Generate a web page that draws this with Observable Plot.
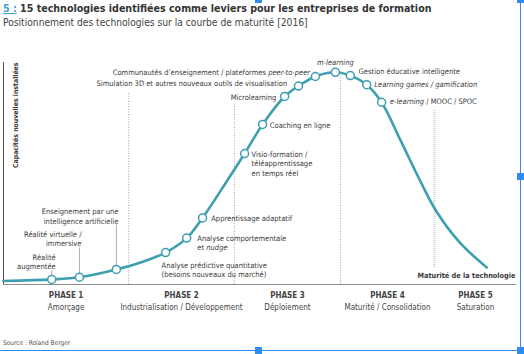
<!DOCTYPE html>
<html><head><meta charset="utf-8">
<script src="https://cdn.jsdelivr.net/npm/d3@7"></script>
<script src="https://cdn.jsdelivr.net/npm/@observablehq/plot@0.6"></script>
<style>
  html,body{margin:0;padding:0;background:#fff;}
  body{position:relative;width:524px;height:354px;overflow:hidden;
       font-family:"Liberation Sans Narrow","Arial Narrow","DejaVu Sans Condensed",sans-serif;color:#333;}
  #title{position:absolute;left:3px;top:2px;font-size:10.6px;line-height:12px;font-weight:bold;color:#333;white-space:nowrap;}
  #title .num{color:#3fa0cc;text-decoration:underline;}
  #subtitle{position:absolute;left:3px;top:17px;font-size:10.2px;line-height:12px;color:#444;white-space:nowrap;}
  #chart{position:absolute;left:0;top:34px;}
  #source{position:absolute;left:3px;top:339px;font-size:6.5px;line-height:9px;color:#555;}
  .sel{position:absolute;background:#2d8ef0;}
</style>
</head><body>
<div id="title"><span class="num">5 :</span> 15 technologies identifiées comme leviers pour les entreprises de formation</div>
<div id="subtitle">Positionnement des technologies sur la courbe de maturité [2016]</div>
<div id="chart"></div>
<div id="source">Source : Roland Berger</div>
<div class="sel" style="left:520px;top:0;width:1px;height:351px"></div>
<div class="sel" style="left:0;top:350px;width:521px;height:1px"></div>
<div class="sel" style="left:255px;top:-4px;width:7px;height:7px"></div>
<div class="sel" style="left:517px;top:-4px;width:7px;height:7px"></div>
<div class="sel" style="left:517px;top:173px;width:7px;height:7px"></div>
<div class="sel" style="left:255px;top:347px;width:7px;height:7px"></div>
<div class="sel" style="left:517px;top:347px;width:7px;height:7px"></div>
<script>
// ---- data ----
const technologies = [
  "Réalité\naugmentée",
  "Réalité virtuelle /\nimmersive",
  "Enseignement par une\nintelligence artificielle",
  "Analyse prédictive quantitative\n(besoins nouveaux du marché)",
  "Analyse comportementale\net nudge",
  "Apprentissage adaptatif",
  "Visio-formation /\ntéléapprentissage\nen temps réel",
  "Coaching en ligne",
  "Microlearning",
  "Simulation 3D et autres nouveaux outils de visualisation",
  "Communautés d’enseignement / plateformes peer-to-peer",
  "m-learning",
  "Gestion éducative intelligente",
  "Learning games / gamification",
  "e-learning / MOOC / SPOC"
];
const maturity = [9.4, 14.8, 22.0, 31.6, 35.7, 38.8, 47.0, 50.5, 54.8, 57.5, 60.8, 64.7, 67.6, 70.8, 73.7];
const capacity = [2.3, 3.3, 6.8, 14.4, 20.9, 30.0, 59.0, 72.1, 84.7, 89.4, 93.7, 95.6, 94.1, 90.0, 82.1];
const curveMaturity = [0, 26.7, 43.5, 77.4, 80.9, 84.4, 89.1, 94.2];
const curveCapacity = [1.6, 9.9, 46.4, 64.9, 48.2, 32.9, 18.5, 7.7];
const phaseBounds = [24.4, 45.0, 65.7, 84.0];
const phaseNames = ["PHASE 1", "PHASE 2", "PHASE 3", "PHASE 4", "PHASE 5"];
const phaseDescs = ["Amorçage", "Industrialisation / Développement", "Déploiement", "Maturité / Consolidation", "Saturation"];
const italicTerms = ["Learning games / gamification", "peer-to-peer", "m-learning", "e-learning", "nudge"];
const yLabel = "Capacités nouvelles installées";
const xLabel = "Maturité de la technologie";

// ---- layout / style ----
const W = 524, H = 304, mTop = 28, mBottom = 54, mLeft = 3, mRight = 8;
const pxPerUnit = (H - mTop - mBottom) / 100;
const TEAL = "#3e9fb0", INK = "#3a3a3a";
const FONT = '"Liberation Sans Narrow","Arial Narrow","DejaVu Sans Condensed",sans-serif';
const LABEL_SIZE = 7.5;
const labelLayout = [
  {anchor: "end", dx: 4, dy: -17.7, leader: 9},
  {anchor: "end", dx: 2, dy: -38.7, leader: 29.7},
  {anchor: "end", dx: 2, dy: -53.7, leader: 45},
  {anchor: "start", dx: -4, dy: 16.8},
  {anchor: "start", dx: 10.7, dy: 4.5},
  {anchor: "start", dx: 8.7, dy: 0},
  {anchor: "start", dx: 7, dy: 9.7},
  {anchor: "start", dx: 7.3, dy: 0},
  {anchor: "end", dx: -8.3, dy: 0},
  {anchor: "end", dx: -11.3, dy: -3.4},
  {anchor: "end", dx: -5.3, dy: -5},
  {anchor: "middle", dx: 0, dy: -10.7},
  {anchor: "start", dx: 8.3, dy: -5},
  {anchor: "start", dx: 7.6, dy: -1},
  {anchor: "start", dx: 8.3, dy: -1.7}
];
const sepTops = [86, 82, 94, 78.4];

const techs = maturity.map((m, i) => ({m, c: capacity[i], label: technologies[i], ...labelLayout[i]}));
const curvePts = d3.sort(
  [...techs.map(d => ({m: d.m, c: d.c})), ...curveMaturity.map((m, i) => ({m, c: curveCapacity[i]}))],
  d => d.m
);
const edges = [0, ...phaseBounds, 100];
const mids = phaseNames.map((_, i) => (edges[i] + edges[i + 1]) / 2);

const marks = [
  // phase separators
  Plot.ruleX(phaseBounds.slice(0, 3), {x: d => d, y1: 0, y2: (d, i) => sepTops[i], stroke: "#8a8a8a", strokeWidth: 0.8, strokeDasharray: "1,1.6"}),
  Plot.ruleX([phaseBounds[3]], {x: d => d, y1: curveCapacity[curveCapacity.length - 1], y2: sepTops[3], stroke: "#c4c4c4", strokeWidth: 1.6, strokeDasharray: "1,1"}),
  // axes
  Plot.ruleY([0], {stroke: "#8f8f8f", strokeWidth: 1}),
  Plot.ruleX([0], {stroke: "#555", strokeWidth: 1}),
  // leaders
  Plot.link(techs.filter(d => d.leader), {x1: "m", x2: "m", y1: "c", y2: d => d.c + d.leader / pxPerUnit, stroke: "#8a8a8a", strokeWidth: 0.7}),
  // curve
  Plot.line(curvePts, {x: "m", y: "c", curve: "catmull-rom", stroke: TEAL, strokeWidth: 2.6}),
  Plot.dot(techs, {x: "m", y: "c", r: 4, fill: "white", stroke: TEAL, strokeWidth: 1.5}),
  // labels
  ...techs.map(d => Plot.text([d], {x: "m", y: "c", text: "label", textAnchor: d.anchor, dx: d.dx, dy: d.dy,
      lineAnchor: "middle", lineHeight: 1.27, fontSize: LABEL_SIZE, fill: INK})),
  // axis titles
  Plot.text([yLabel], {frameAnchor: "top-left", rotate: -90, textAnchor: "end", dx: 10, fontSize: 6.9, fontWeight: "bold", fill: INK}),
  Plot.text([xLabel], {frameAnchor: "bottom-right", textAnchor: "end", dx: -1, dy: -7, fontSize: 7.3, fontWeight: "bold", fill: INK}),
  // phases
  Plot.text(phaseNames, {x: (d, i) => mids[i], frameAnchor: "bottom", dy: 13, fontSize: 8, fontWeight: "bold", fill: "#444"}),
  Plot.text(phaseDescs, {x: (d, i) => mids[i], frameAnchor: "bottom", dy: 25, fontSize: 8, fill: "#444"})
];

const svg = Plot.plot({
  width: W, height: H,
  marginTop: mTop, marginBottom: mBottom, marginLeft: mLeft, marginRight: mRight,
  x: {domain: [0, 100], axis: null},
  y: {domain: [0, 100], axis: null},
  style: {fontFamily: FONT, fontSize: "8px", background: "transparent", overflow: "visible"},
  marks
});

// italic segments inside labels
(function italicize(root) {
  const esc = s => s.replace(/[.*+?^${}()|[\]\\\/]/g, "\\$&");
  const re = new RegExp("(" + italicTerms.map(esc).join("|") + ")");
  const walker = document.createTreeWalker(root, NodeFilter.SHOW_TEXT);
  const nodes = [];
  while (walker.nextNode()) nodes.push(walker.currentNode);
  for (const n of nodes) {
    const parts = n.nodeValue.split(re);
    if (parts.length < 2) continue;
    const frag = document.createDocumentFragment();
    for (const p of parts) {
      if (!p) continue;
      if (italicTerms.includes(p)) {
        const t = document.createElementNS("http://www.w3.org/2000/svg", "tspan");
        t.setAttribute("font-style", "italic");
        t.textContent = p;
        frag.appendChild(t);
      } else frag.appendChild(document.createTextNode(p));
    }
    n.parentNode.replaceChild(frag, n);
  }
})(svg);

document.getElementById("chart").appendChild(svg);
</script>
</body></html>
